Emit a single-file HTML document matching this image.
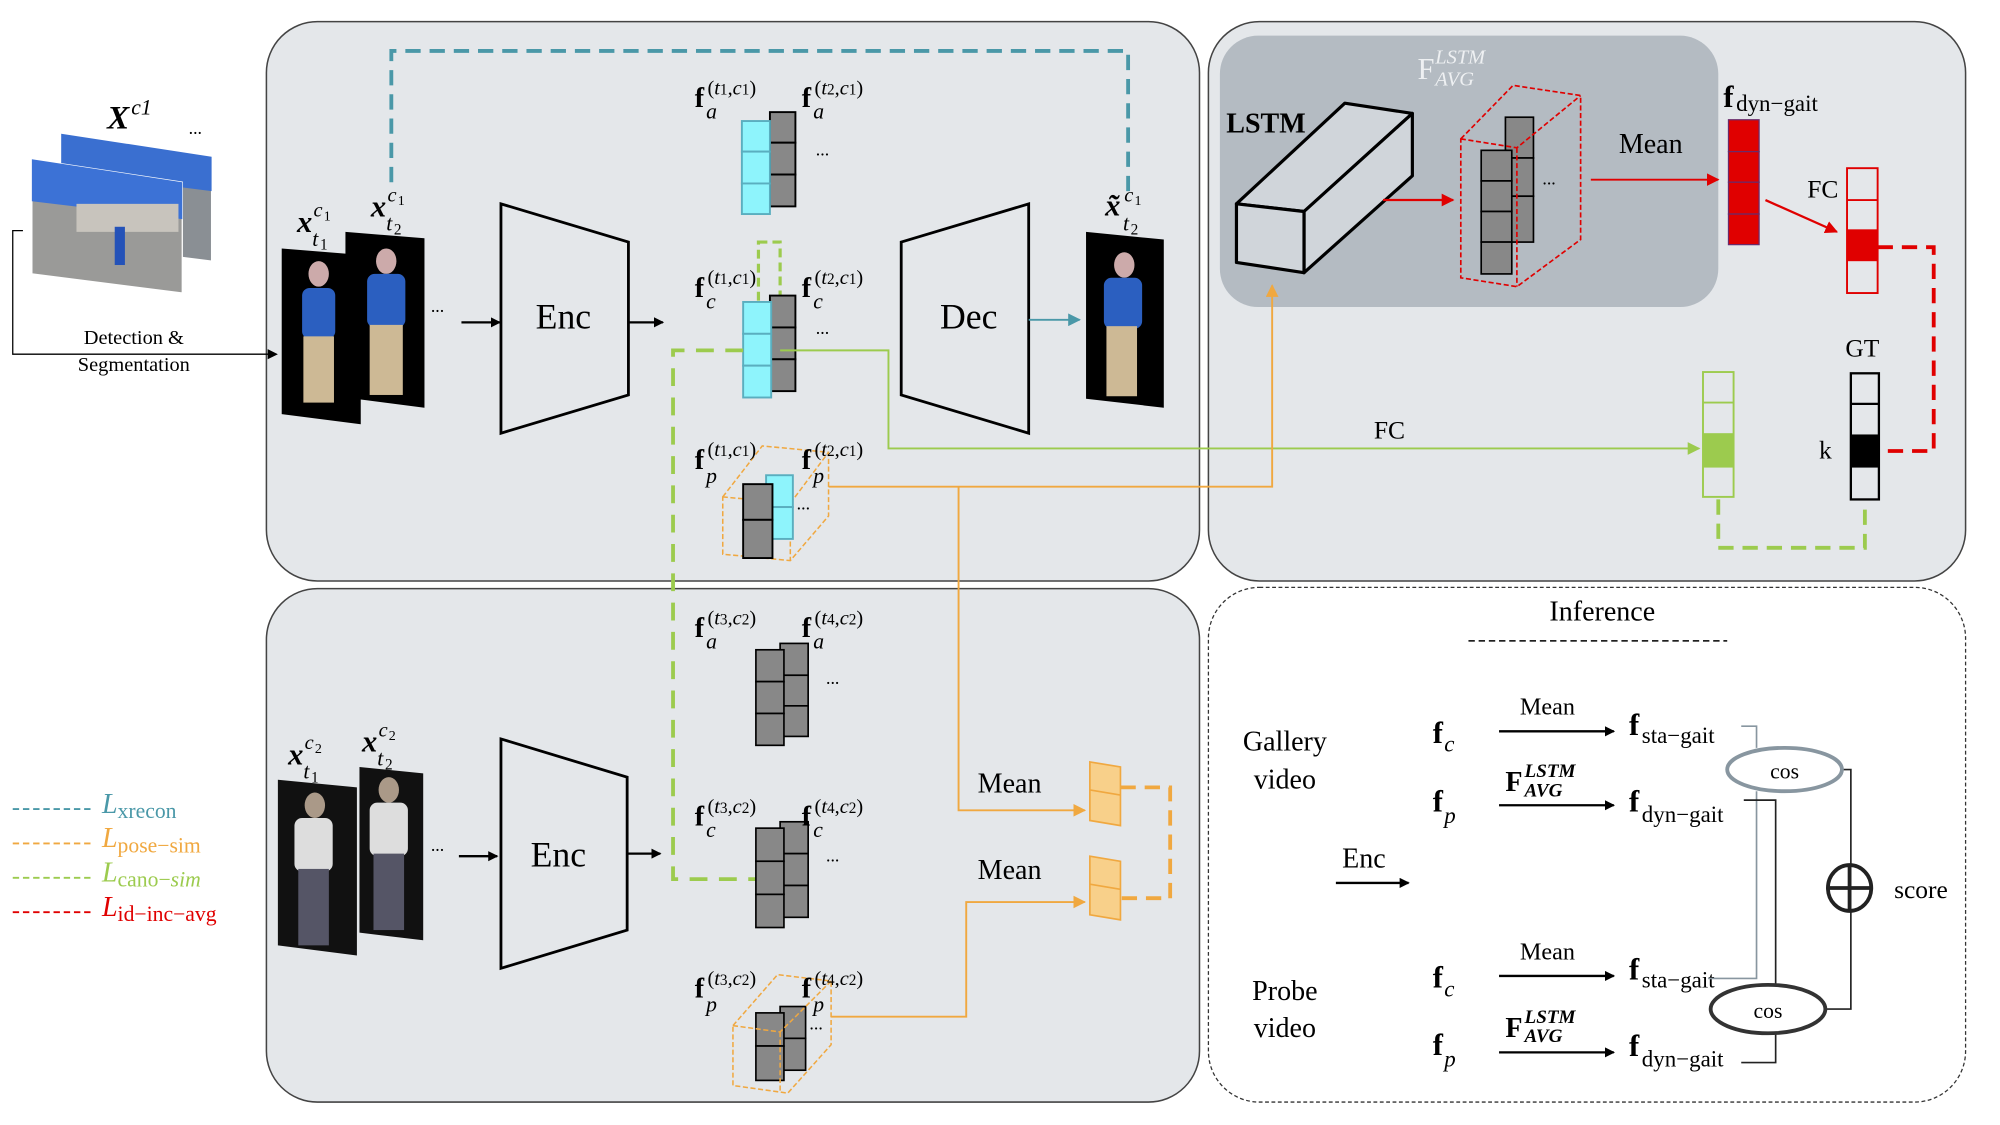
<!DOCTYPE html>
<html><head><meta charset="utf-8"><style>
html,body{margin:0;padding:0;background:#fff;}
svg{display:block;}
text{font-family:"Liberation Serif",serif;fill:#000;}
.b{font-weight:bold;}
.i{font-style:italic;}
</style></head><body>
<svg width="2000" height="1125" viewBox="0 0 1569 883" preserveAspectRatio="none" xmlns="http://www.w3.org/2000/svg">
<defs>
<marker id="ab" markerWidth="8" markerHeight="8" refX="7" refY="4" orient="auto" markerUnits="userSpaceOnUse"><path d="M0,0 L8,4 L0,8 z" fill="#000"/></marker>
<marker id="ar" markerWidth="10" markerHeight="10" refX="9" refY="5" orient="auto" markerUnits="userSpaceOnUse"><path d="M0,0 L10,5 L0,10 z" fill="#e00000"/></marker>
<marker id="ag" markerWidth="10" markerHeight="10" refX="9" refY="5" orient="auto" markerUnits="userSpaceOnUse"><path d="M0,0 L10,5 L0,10 z" fill="#9ccb4e"/></marker>
<marker id="ao" markerWidth="10" markerHeight="10" refX="9" refY="5" orient="auto" markerUnits="userSpaceOnUse"><path d="M0,0 L10,5 L0,10 z" fill="#f0a840"/></marker>
<marker id="at" markerWidth="10" markerHeight="10" refX="9" refY="5" orient="auto" markerUnits="userSpaceOnUse"><path d="M0,0 L10,5 L0,10 z" fill="#4a98a8"/></marker>
</defs>

<!-- panels -->
<rect x="209" y="17" width="732" height="439" rx="40" fill="#e4e7ea" stroke="#444" stroke-width="1.2"/>
<rect x="948" y="17" width="594" height="439" rx="40" fill="#e4e7ea" stroke="#444" stroke-width="1.2"/>
<rect x="957" y="28" width="391" height="213" rx="30" fill="#b4bbc2"/>
<rect x="209" y="462" width="732" height="403" rx="40" fill="#e4e7ea" stroke="#444" stroke-width="1.2"/>
<rect x="948" y="461" width="594" height="404" rx="40" fill="#fff" stroke="#333" stroke-width="1" stroke-dasharray="3,2"/>

<!-- input stack -->
<g>
<polygon points="48,105 166,123 166,205 48,190" fill="#8a8f94" stroke="#fff"/>
<polygon points="48,105 166,123 166,150 48,135" fill="#3a6fd0"/>
<polygon points="25,125 143,143 143,230 25,215" fill="#9a9a98" stroke="#fff"/>
<polygon points="25,125 143,143 143,172 25,158" fill="#3c72d6"/>
<rect x="60" y="160" width="80" height="22" fill="#c8c4bd"/>
<rect x="90" y="178" width="8" height="30" fill="#2452b8"/>
</g>
<text x="84" y="101" font-size="26" class="b i">X</text><text x="103" y="90" font-size="17" class="i">c1</text>
<text x="148" y="105" font-size="14">...</text>
<polyline points="18,181 10,181 10,278 217,278" fill="none" stroke="#000" stroke-width="1" marker-end="url(#ab)"/>
<text x="105" y="270" font-size="16" text-anchor="middle">Detection &amp;</text>
<text x="105" y="291" font-size="16" text-anchor="middle">Segmentation</text>

<!-- teal dashed -->
<polyline points="307,143 307,40 885,40 885,150" fill="none" stroke="#4a98a8" stroke-width="3" stroke-dasharray="12,7"/>

<!-- person frames top -->
<g>
<polygon points="221,195 283,200 283,333 221,325" fill="#000"/>
<ellipse cx="250" cy="215" rx="8" ry="10" fill="#caa"/>
<rect x="237" y="226" width="26" height="40" rx="6" fill="#2b5fc0"/>
<rect x="238" y="264" width="24" height="52" fill="#cdb995"/>
<polygon points="271,182 333,187 333,320 271,312" fill="#000"/>
<ellipse cx="303" cy="205" rx="8" ry="10" fill="#caa"/>
<rect x="288" y="215" width="30" height="42" rx="6" fill="#2b5fc0"/>
<rect x="290" y="255" width="26" height="55" fill="#cdb995"/>
</g>
<text x="233" y="182" font-size="24" class="b i">x</text><text x="246" y="170" font-size="16" class="i">c</text><text x="254" y="173" font-size="11">1</text><text x="245" y="193" font-size="17" class="i">t</text><text x="251" y="196" font-size="12">1</text>
<text x="291" y="170" font-size="24" class="b i">x</text><text x="304" y="158" font-size="16" class="i">c</text><text x="312" y="161" font-size="11">1</text><text x="303" y="181" font-size="17" class="i">t</text><text x="309" y="184" font-size="12">2</text>
<text x="338" y="245" font-size="14">...</text>
<line x1="362" y1="253" x2="392" y2="253" stroke="#000" stroke-width="1.8" marker-end="url(#ab)"/>
<polygon points="393,160 493,190 493,310 393,340" fill="none" stroke="#000" stroke-width="2.2"/>
<text x="442" y="258" font-size="28" text-anchor="middle">Enc</text>
<line x1="493" y1="253" x2="520" y2="253" stroke="#000" stroke-width="1.8" marker-end="url(#ab)"/>

<!-- fa top -->
<g stroke="#000" stroke-width="1.5" fill="#888">
<rect x="604" y="88" width="20" height="24"/><rect x="604" y="112" width="20" height="25"/><rect x="604" y="137" width="20" height="25"/>
</g>
<g stroke="#5aaebf" stroke-width="1.5" fill="#8ef4fc">
<rect x="582" y="95" width="22" height="24"/><rect x="582" y="119" width="22" height="25"/><rect x="582" y="144" width="22" height="24"/>
</g>
<text x="640" y="122" font-size="14">...</text>
<g id="lbl">
<text x="545" y="84" font-size="22" class="b">f</text><text x="554" y="93" font-size="17" class="i">a</text><text x="555" y="74" font-size="16">(<tspan class="i">t</tspan><tspan font-size="12">1</tspan>,<tspan class="i">c</tspan><tspan font-size="12">1</tspan>)</text>
<text x="629" y="84" font-size="22" class="b">f</text><text x="638" y="93" font-size="17" class="i">a</text><text x="639" y="74" font-size="16">(<tspan class="i">t</tspan><tspan font-size="12">2</tspan>,<tspan class="i">c</tspan><tspan font-size="12">1</tspan>)</text>
</g>

<!-- fc top -->
<rect x="595" y="190" width="17" height="50" fill="none" stroke="#9ccb4e" stroke-width="2.5" stroke-dasharray="7,4"/>
<g stroke="#000" stroke-width="1.5" fill="#888">
<rect x="604" y="232" width="20" height="25"/><rect x="604" y="257" width="20" height="25"/><rect x="604" y="282" width="20" height="25"/>
</g>
<g stroke="#5aaebf" stroke-width="1.5" fill="#8ef4fc">
<rect x="583" y="237" width="22" height="25"/><rect x="583" y="262" width="22" height="25"/><rect x="583" y="287" width="22" height="25"/>
</g>
<text x="640" y="262" font-size="14">...</text>
<text x="545" y="233" font-size="22" class="b">f</text><text x="554" y="242" font-size="17" class="i">c</text><text x="555" y="223" font-size="16">(<tspan class="i">t</tspan><tspan font-size="12">1</tspan>,<tspan class="i">c</tspan><tspan font-size="12">1</tspan>)</text>
<text x="629" y="233" font-size="22" class="b">f</text><text x="638" y="242" font-size="17" class="i">c</text><text x="639" y="223" font-size="16">(<tspan class="i">t</tspan><tspan font-size="12">2</tspan>,<tspan class="i">c</tspan><tspan font-size="12">1</tspan>)</text>

<!-- fp top -->
<g fill="none" stroke="#f0a840" stroke-width="1.2" stroke-dasharray="4,2">
<polygon points="567,390 598,350 650,355 650,405 620,440 567,435"/>
<line x1="567" y1="390" x2="620" y2="395"/><line x1="620" y1="395" x2="650" y2="355"/><line x1="620" y1="395" x2="620" y2="440"/>
</g>
<g stroke="#5aaebf" stroke-width="1.5" fill="#8ef4fc"><rect x="601" y="373" width="21" height="25"/><rect x="601" y="398" width="21" height="25"/></g>
<g stroke="#000" stroke-width="1.5" fill="#888"><rect x="583" y="380" width="23" height="28"/><rect x="583" y="408" width="23" height="30"/></g>
<text x="625" y="400" font-size="14">...</text>
<text x="545" y="368" font-size="22" class="b">f</text><text x="554" y="379" font-size="17" class="i">p</text><text x="555" y="358" font-size="16">(<tspan class="i">t</tspan><tspan font-size="12">1</tspan>,<tspan class="i">c</tspan><tspan font-size="12">1</tspan>)</text>
<text x="629" y="368" font-size="22" class="b">f</text><text x="638" y="379" font-size="17" class="i">p</text><text x="639" y="358" font-size="16">(<tspan class="i">t</tspan><tspan font-size="12">2</tspan>,<tspan class="i">c</tspan><tspan font-size="12">1</tspan>)</text>

<!-- Dec -->
<polygon points="707,190 807,160 807,340 707,310" fill="none" stroke="#000" stroke-width="2.2"/>
<text x="760" y="258" font-size="28" text-anchor="middle">Dec</text>
<line x1="807" y1="251" x2="847" y2="251" stroke="#4a98a8" stroke-width="1.5" marker-end="url(#at)"/>
<polygon points="852,182 913,188 913,320 852,313" fill="#000"/>
<ellipse cx="882" cy="208" rx="8" ry="10" fill="#caa"/>
<rect x="866" y="218" width="30" height="40" rx="6" fill="#2b5fc0"/>
<rect x="868" y="256" width="24" height="55" fill="#cdb995"/>
<text x="867" y="169" font-size="24" class="b i">x̃</text><text x="882" y="158" font-size="16" class="i">c</text><text x="890" y="161" font-size="11">1</text><text x="881" y="181" font-size="17" class="i">t</text><text x="887" y="184" font-size="12">2</text>

<!-- green connections -->
<polyline points="612,275 697,275 697,352 1333,352" fill="none" stroke="#9ccb4e" stroke-width="1.5" marker-end="url(#ag)"/>
<text x="1090" y="344" font-size="20" text-anchor="middle">FC</text>
<polyline points="583,275 528,275 528,690 593,690" fill="none" stroke="#9ccb4e" stroke-width="3" stroke-dasharray="14,9"/>

<!-- orange connections -->
<polyline points="650,382 998,382 998,224" fill="none" stroke="#f0a840" stroke-width="1.5" marker-end="url(#ao)"/>
<polyline points="752,382 752,636 851,636" fill="none" stroke="#f0a840" stroke-width="1.5" marker-end="url(#ao)"/>
<polyline points="652,798 758,798 758,708 851,708" fill="none" stroke="#f0a840" stroke-width="1.5" marker-end="url(#ao)"/>

<!-- LSTM -->
<g fill="#d0d5da" stroke="#000" stroke-width="2.5" stroke-linejoin="round">
<polygon points="970,160 1055,81 1108,89 1023,166"/>
<polygon points="1023,166 1108,89 1108,138 1023,214"/>
<polygon points="970,160 1023,166 1023,214 970,206"/>
</g>
<text x="962" y="104" font-size="22" class="b">LSTM</text>
<line x1="1085" y1="157" x2="1140" y2="157" stroke="#e00000" stroke-width="1.8" marker-end="url(#ar)"/>
<g stroke="#000" stroke-width="1.3" fill="#888">
<rect x="1181" y="92" width="22" height="32"/><rect x="1181" y="124" width="22" height="30"/><rect x="1181" y="154" width="22" height="36"/>
<rect x="1162" y="118" width="24" height="24"/><rect x="1162" y="142" width="24" height="24"/><rect x="1162" y="166" width="24" height="24"/><rect x="1162" y="190" width="24" height="25"/>
</g>
<g fill="none" stroke="#e00000" stroke-width="1.3" stroke-dasharray="4,2">
<polygon points="1146,109 1187,67 1240,75 1240,188 1190,225 1146,218"/>
<polyline points="1146,109 1190,116 1240,75"/><line x1="1190" y1="116" x2="1190" y2="225"/>
</g>
<text x="1210" y="145" font-size="14">...</text>
<text x="1112" y="62" font-size="24" style="fill:#eef0f2">F</text><text x="1126" y="50" font-size="16" class="i" style="fill:#eef0f2">LSTM</text><text x="1126" y="67" font-size="16" class="i" style="fill:#eef0f2">AVG</text>
<text x="1295" y="120" font-size="22" text-anchor="middle">Mean</text>
<line x1="1248" y1="141" x2="1348" y2="141" stroke="#e00000" stroke-width="1.5" marker-end="url(#ar)"/>
<g fill="#e00000" stroke="#6a2a6a" stroke-width="1"><rect x="1356" y="94" width="24" height="25"/><rect x="1356" y="119" width="24" height="24"/><rect x="1356" y="143" width="24" height="25"/><rect x="1356" y="168" width="24" height="24"/></g>
<text x="1352" y="84" font-size="24" class="b">f</text><text x="1362" y="87" font-size="18">dyn−gait</text>
<line x1="1385" y1="157" x2="1441" y2="182" stroke="#e00000" stroke-width="1.8" marker-end="url(#ar)"/>
<text x="1430" y="155" font-size="20" text-anchor="middle">FC</text>
<g fill="none" stroke="#e00000" stroke-width="1.5"><rect x="1449" y="132" width="24" height="98"/><line x1="1449" y1="157" x2="1473" y2="157"/></g>
<rect x="1449" y="180" width="24" height="25" fill="#e00000"/>
<polyline points="1473,194 1517,194 1517,354 1477,354" fill="none" stroke="#e00000" stroke-width="3" stroke-dasharray="12,7"/>
<text x="1461" y="280" font-size="20" text-anchor="middle">GT</text>
<g fill="none" stroke="#000" stroke-width="1.8"><rect x="1452" y="293" width="22" height="99"/><line x1="1452" y1="317" x2="1474" y2="317"/></g>
<rect x="1452" y="341" width="22" height="26" fill="#000"/>
<text x="1432" y="360" font-size="20" text-anchor="middle">k</text>
<g fill="none" stroke="#9ccb4e" stroke-width="1.5"><rect x="1336" y="292" width="24" height="98"/><line x1="1336" y1="316" x2="1360" y2="316"/></g>
<rect x="1336" y="340" width="24" height="27" fill="#9ccb4e"/>
<polyline points="1348,392 1348,430 1463,430 1463,394" fill="none" stroke="#9ccb4e" stroke-width="3" stroke-dasharray="12,7"/>

<!-- bottom-left panel -->
<polygon points="218,612 280,618 280,750 218,742" fill="#111"/>
<ellipse cx="247" cy="632" rx="8" ry="10" fill="#a98"/>
<rect x="231" y="642" width="30" height="42" rx="6" fill="#ddd"/>
<rect x="234" y="682" width="24" height="60" fill="#556"/>
<polygon points="282,602 332,607 332,738 282,732" fill="#111"/>
<ellipse cx="305" cy="620" rx="8" ry="10" fill="#a98"/>
<rect x="290" y="630" width="30" height="42" rx="6" fill="#ddd"/>
<rect x="293" y="670" width="24" height="60" fill="#556"/>
<text x="226" y="600" font-size="24" class="b i">x</text><text x="239" y="588" font-size="16" class="i">c</text><text x="247" y="591" font-size="11">2</text><text x="238" y="611" font-size="17" class="i">t</text><text x="244" y="614" font-size="12">1</text>
<text x="284" y="590" font-size="24" class="b i">x</text><text x="297" y="578" font-size="16" class="i">c</text><text x="305" y="581" font-size="11">2</text><text x="296" y="601" font-size="17" class="i">t</text><text x="302" y="604" font-size="12">2</text>
<text x="338" y="668" font-size="14">...</text>
<line x1="360" y1="672" x2="390" y2="672" stroke="#000" stroke-width="1.8" marker-end="url(#ab)"/>
<polygon points="393,580 492,610 492,730 393,760" fill="none" stroke="#000" stroke-width="2.2"/>
<text x="438" y="680" font-size="28" text-anchor="middle">Enc</text>
<line x1="492" y1="670" x2="518" y2="670" stroke="#000" stroke-width="1.8" marker-end="url(#ab)"/>

<g stroke="#000" stroke-width="1.3" fill="#888">
<rect x="612" y="505" width="22" height="25"/><rect x="612" y="530" width="22" height="24"/><rect x="612" y="554" width="22" height="24"/>
<rect x="593" y="510" width="22" height="25"/><rect x="593" y="535" width="22" height="25"/><rect x="593" y="560" width="22" height="25"/>
<rect x="612" y="645" width="22" height="25"/><rect x="612" y="670" width="22" height="25"/><rect x="612" y="695" width="22" height="25"/>
<rect x="593" y="650" width="22" height="26"/><rect x="593" y="676" width="22" height="26"/><rect x="593" y="702" width="22" height="26"/>
<rect x="612" y="790" width="20" height="25"/><rect x="612" y="815" width="20" height="25"/>
<rect x="593" y="795" width="22" height="26"/><rect x="593" y="821" width="22" height="27"/>
</g>
<text x="648" y="537" font-size="14">...</text>
<text x="648" y="676" font-size="14">...</text>
<text x="635" y="808" font-size="14">...</text>
<g fill="none" stroke="#f0a840" stroke-width="1.2" stroke-dasharray="4,2">
<polygon points="575,805 610,765 652,770 652,820 618,858 575,852"/>
<polyline points="575,805 612,810 652,770"/><line x1="612" y1="810" x2="612" y2="858"/>
</g>
<text x="545" y="500" font-size="22" class="b">f</text><text x="554" y="509" font-size="17" class="i">a</text><text x="555" y="490" font-size="16">(<tspan class="i">t</tspan><tspan font-size="12">3</tspan>,<tspan class="i">c</tspan><tspan font-size="12">2</tspan>)</text>
<text x="629" y="500" font-size="22" class="b">f</text><text x="638" y="509" font-size="17" class="i">a</text><text x="639" y="490" font-size="16">(<tspan class="i">t</tspan><tspan font-size="12">4</tspan>,<tspan class="i">c</tspan><tspan font-size="12">2</tspan>)</text>
<text x="545" y="648" font-size="22" class="b">f</text><text x="554" y="657" font-size="17" class="i">c</text><text x="555" y="638" font-size="16">(<tspan class="i">t</tspan><tspan font-size="12">3</tspan>,<tspan class="i">c</tspan><tspan font-size="12">2</tspan>)</text>
<text x="629" y="648" font-size="22" class="b">f</text><text x="638" y="657" font-size="17" class="i">c</text><text x="639" y="638" font-size="16">(<tspan class="i">t</tspan><tspan font-size="12">4</tspan>,<tspan class="i">c</tspan><tspan font-size="12">2</tspan>)</text>
<text x="545" y="783" font-size="22" class="b">f</text><text x="554" y="794" font-size="17" class="i">p</text><text x="555" y="773" font-size="16">(<tspan class="i">t</tspan><tspan font-size="12">3</tspan>,<tspan class="i">c</tspan><tspan font-size="12">2</tspan>)</text>
<text x="629" y="783" font-size="22" class="b">f</text><text x="638" y="794" font-size="17" class="i">p</text><text x="639" y="773" font-size="16">(<tspan class="i">t</tspan><tspan font-size="12">4</tspan>,<tspan class="i">c</tspan><tspan font-size="12">2</tspan>)</text>

<text x="792" y="622" font-size="22" text-anchor="middle">Mean</text>
<text x="792" y="690" font-size="22" text-anchor="middle">Mean</text>
<g fill="#f8d08a" stroke="#f0a840" stroke-width="1.3">
<polygon points="855,598 879,602 879,648 855,644"/><line x1="855" y1="620" x2="879" y2="624"/>
<polygon points="855,672 879,676 879,722 855,718"/><line x1="855" y1="694" x2="879" y2="698"/>
</g>
<polyline points="879,618 918,618 918,705 879,705" fill="none" stroke="#f0a840" stroke-width="3" stroke-dasharray="12,7"/>

<!-- legend -->
<g stroke-width="1.5" stroke-dasharray="5,3">
<line x1="10" y1="635" x2="72" y2="635" stroke="#4a98a8"/>
<line x1="10" y1="662" x2="72" y2="662" stroke="#f0a840"/>
<line x1="10" y1="689" x2="72" y2="689" stroke="#9ccb4e"/>
<line x1="10" y1="716" x2="72" y2="716" stroke="#e00000"/>
</g>
<text x="80" y="638" font-size="22" class="i" style="fill:#4a98a8">L<tspan font-size="17" font-style="normal" dy="4">xrecon</tspan></text>
<text x="80" y="665" font-size="22" class="i" style="fill:#f0a840">L<tspan font-size="17" font-style="normal" dy="4">pose−sim</tspan></text>
<text x="80" y="692" font-size="22" class="i" style="fill:#9ccb4e">L<tspan font-size="17" font-style="normal" dy="4">cano−</tspan><tspan font-size="17">sim</tspan></text>
<text x="80" y="719" font-size="22" class="i" style="fill:#e00000">L<tspan font-size="17" font-style="normal" dy="4">id−inc−avg</tspan></text>

<!-- inference -->
<text x="1257" y="487" font-size="22" text-anchor="middle">Inference</text>
<line x1="1152" y1="503" x2="1355" y2="503" stroke="#000" stroke-width="1.2" stroke-dasharray="5,3"/>
<text x="1008" y="589" font-size="22" text-anchor="middle">Gallery</text>
<text x="1008" y="619" font-size="22" text-anchor="middle">video</text>
<text x="1008" y="785" font-size="22" text-anchor="middle">Probe</text>
<text x="1008" y="814" font-size="22" text-anchor="middle">video</text>
<text x="1070" y="681" font-size="22" text-anchor="middle">Enc</text>
<line x1="1048" y1="693" x2="1105" y2="693" stroke="#000" stroke-width="1.8" marker-end="url(#ab)"/>

<g font-size="24">
<text x="1124" y="583" class="b">f</text><text x="1133" y="590" font-size="18" class="i">c</text>
<text x="1124" y="637" class="b">f</text><text x="1133" y="646" font-size="18" class="i">p</text>
<text x="1124" y="775" class="b">f</text><text x="1133" y="782" font-size="18" class="i">c</text>
<text x="1124" y="828" class="b">f</text><text x="1133" y="837" font-size="18" class="i">p</text>
</g>
<g stroke="#000" stroke-width="1.8">
<line x1="1176" y1="574" x2="1266" y2="574" marker-end="url(#ab)"/>
<line x1="1176" y1="632" x2="1266" y2="632" marker-end="url(#ab)"/>
<line x1="1176" y1="766" x2="1266" y2="766" marker-end="url(#ab)"/>
<line x1="1176" y1="826" x2="1266" y2="826" marker-end="url(#ab)"/>
</g>
<text x="1214" y="561" font-size="19" text-anchor="middle">Mean</text>
<text x="1214" y="753" font-size="19" text-anchor="middle">Mean</text>
<text x="1181" y="621" font-size="22" class="b">F</text><text x="1196" y="610" font-size="15" class="b i">LSTM</text><text x="1196" y="625" font-size="15" class="b i">AVG</text>
<text x="1181" y="814" font-size="22" class="b">F</text><text x="1196" y="803" font-size="15" class="b i">LSTM</text><text x="1196" y="818" font-size="15" class="b i">AVG</text>
<g>
<text x="1278" y="577" font-size="24" class="b">f</text><text x="1288" y="583" font-size="18">sta−gait</text>
<text x="1278" y="637" font-size="24" class="b">f</text><text x="1288" y="645" font-size="18">dyn−gait</text>
<text x="1278" y="769" font-size="24" class="b">f</text><text x="1288" y="775" font-size="18">sta−gait</text>
<text x="1278" y="829" font-size="24" class="b">f</text><text x="1288" y="837" font-size="18">dyn−gait</text>
</g>
<polyline points="1366,570 1378,570 1378,587" fill="none" stroke="#8896a0" stroke-width="1.3"/>
<polyline points="1378,621 1378,768 1340,768" fill="none" stroke="#8896a0" stroke-width="1.3"/>
<polyline points="1368,628 1393,628 1393,772" fill="none" stroke="#222" stroke-width="1.3"/>
<polyline points="1393,812 1393,834 1366,834" fill="none" stroke="#222" stroke-width="1.3"/>
<polyline points="1446,604 1452,604 1452,792 1432,792" fill="none" stroke="#222" stroke-width="1.3"/>
<ellipse cx="1400" cy="604" rx="45" ry="17" fill="#fff" stroke="#8896a0" stroke-width="3"/>
<text x="1400" y="611" font-size="17" text-anchor="middle">cos</text>
<ellipse cx="1387" cy="792" rx="45" ry="19" fill="#fff" stroke="#333" stroke-width="3"/>
<text x="1387" y="799" font-size="17" text-anchor="middle">cos</text>
<ellipse cx="1451" cy="697" rx="17" ry="18" fill="#fff" stroke="#222" stroke-width="3"/>
<line x1="1434" y1="697" x2="1468" y2="697" stroke="#222" stroke-width="3"/>
<line x1="1451" y1="679" x2="1451" y2="715" stroke="#222" stroke-width="3"/>
<text x="1507" y="705" font-size="20" text-anchor="middle">score</text>
</svg>
</body></html>
